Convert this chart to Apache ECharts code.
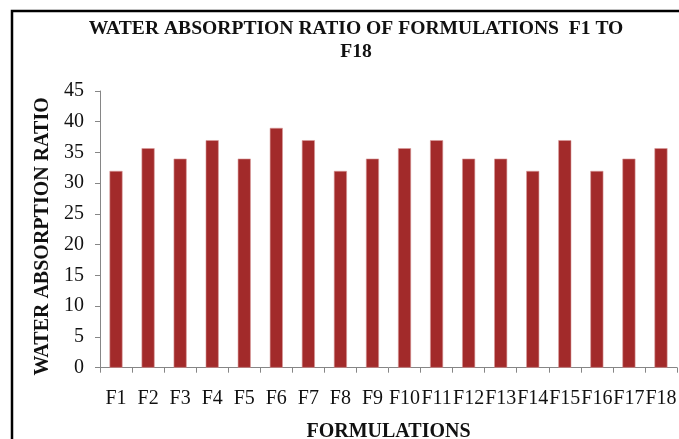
<!DOCTYPE html>
<html>
<head>
<meta charset="utf-8">
<script src="https://cdn.jsdelivr.net/npm/echarts@6/dist/echarts.min.js"></script>
<style>
  html, body { margin: 0; padding: 0; background: #fff; }
  #chart { width: 679px; height: 439px; }
</style>
</head>
<body>
<div id="chart"></div>
<script>
const categories = ['F1','F2','F3','F4','F5','F6','F7','F8','F9','F10','F11','F12','F13','F14','F15','F16','F17','F18'];
const ratios = [32, 35.7, 34, 37, 34, 39, 37, 32, 34, 35.7, 37, 34, 34, 32, 37, 32, 34, 35.7];
const titleText = 'WATER ABSORPTION RATIO OF FORMULATIONS  F1 TO\nF18';
const xName = 'FORMULATIONS';
const yName = 'WATER ABSORPTION RATIO';

const serif = '"Liberation Serif", "Times New Roman", serif';
const axisGray = '#868686';

const chart = echarts.init(document.getElementById('chart'), null, { renderer: 'canvas' });
chart.setOption({
  animation: false,
  backgroundColor: '#ffffff',
  title: {
    text: titleText,
    left: 351,
    top: 12,
    textAlign: 'center',
    textStyle: { fontFamily: serif, fontSize: 19.6, fontWeight: 'bold', color: '#111', lineHeight: 23 }
  },
  graphic: [{
    type: 'rect',
    shape: { x: 12, y: 11, width: 720, height: 480 },
    style: { fill: null, stroke: '#000', lineWidth: 2.5 },
    silent: true
  }],
  grid: { left: 100, right: 2, top: 91, bottom: 71.3, containLabel: false, outerBoundsMode: 'none' },
  xAxis: {
    type: 'category',
    data: categories,
    name: xName,
    nameLocation: 'middle',
    nameGap: 54,
    nameTextStyle: { fontFamily: serif, fontSize: 20, fontWeight: 'bold', color: '#111' },
    axisLine: { lineStyle: { color: axisGray, width: 1 } },
    axisTick: { show: true, alignWithLabel: false, length: 5, lineStyle: { color: axisGray } },
    axisLabel: { interval: 0, margin: 21, fontFamily: serif, fontSize: 20, color: '#111' }
  },
  yAxis: {
    type: 'value',
    min: 0,
    max: 45,
    interval: 5,
    name: yName,
    nameLocation: 'middle',
    nameGap: 46,
    nameTextStyle: { fontFamily: serif, fontSize: 20, fontWeight: 'bold', color: '#111', padding: [0, 14, 0, 0] },
    axisLine: { show: true, lineStyle: { color: axisGray, width: 1 } },
    axisTick: { show: true, length: 5, lineStyle: { color: axisGray } },
    splitLine: { show: false },
    axisLabel: { margin: 16, fontFamily: serif, fontSize: 20, color: '#111' }
  },
  series: [{
    type: 'bar',
    data: ratios,
    barWidth: 13,
    itemStyle: { color: '#A22A2A', borderColor: '#D99A9A', borderWidth: 0.6 }
  }]
});
</script>
</body>
</html>
